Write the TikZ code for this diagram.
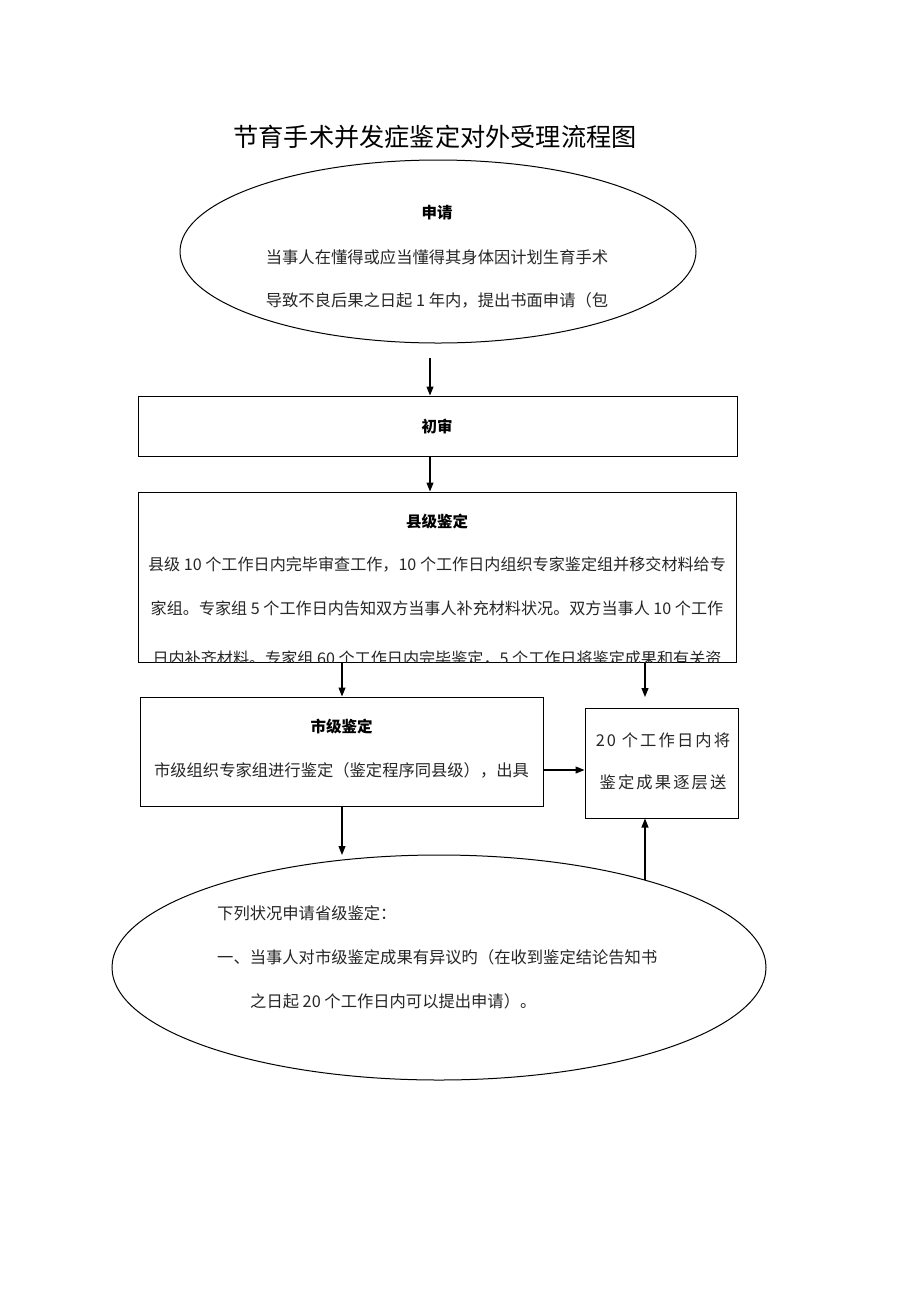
\documentclass[tikz,border=0pt]{standalone}
\usepackage{fontspec}
\setmainfont{Noto Sans CJK SC}
\newfontfamily\cjkls[LetterSpace=13]{Noto Sans CJK SC}
\usetikzlibrary{shapes.geometric,arrows.meta}
\tikzset{
  shapeline/.style={draw=black,line width=1pt,inner sep=0pt},
  ell/.style={shapeline,ellipse},
  rbox/.style={shapeline,rectangle},
  txt/.style={inner sep=0pt,font=\fontsize{16.3}{17}\selectfont,text=black!85},
  wide/.style={txt,font=\fontsize{16.1}{17}\selectfont},
  head/.style={inner sep=0pt,font=\fontsize{15.5}{16}\selectfont\bfseries},
  arr/.style={line width=1.1pt,-{Triangle[length=9pt,width=7pt]}}
}
\begin{document}
\begin{tikzpicture}[x=1pt,y=-1pt]
\useasboundingbox (0,0) rectangle (920,1302);
\fill[white] (0,0) rectangle (920,1302);

\node[inner sep=0pt,font=\fontsize{25.2}{26}\selectfont] (title) at (435,137) {节育手术并发症鉴定对外受理流程图};

% shapes
\node[ell,minimum width=516pt,minimum height=183pt] (app) at (438,251.5) {};
\node[rbox,minimum width=599pt,minimum height=60pt] (chu) at (437.5,426) {};
\node[rbox,minimum width=598pt,minimum height=170pt] (xian) at (437,577) {};
\node[rbox,minimum width=403pt,minimum height=109pt] (shi) at (341.5,751.5) {};
\node[rbox,minimum width=153pt,minimum height=110pt] (res) at (661.5,763) {};
\node[ell,minimum width=654pt,minimum height=225pt] (sheng) at (439,967.5) {};

% texts
\node[head] (apph) at (437,213) {申请};
\node[txt] (app1) at (437,257) {当事人在懂得或应当懂得其身体因计划生育手术};
\node[txt] (app2) at (437,300) {导致不良后果之日起 1 年内，提出书面申请（包};

\node[head] (chuh) at (437,426) {初审};

\begin{scope}
\clip (xian.south west) rectangle (xian.north east);
\node[head] (xianh) at (437,522) {县级鉴定};
\node[wide] (xian1) at (437,565) {县级 10 个工作日内完毕审查工作，10 个工作日内组织专家鉴定组并移交材料给专};
\node[wide] (xian2) at (437,608) {家组。专家组 5 个工作日内告知双方当事人补充材料状况。双方当事人 10 个工作};
\node[wide] (xian3) at (437,659) {日内补齐材料。专家组 60 个工作日内完毕鉴定，5 个工作日将鉴定成果和有关资};
\end{scope}

\node[head] (shih) at (341.5,727) {市级鉴定};
\node[txt] (shi1) at (341.5,770) {市级组织专家组进行鉴定（鉴定程序同县级），出具};

\node[txt,font=\fontsize{16.3}{17}\selectfont\cjkls] (res1) at (663,740) {20 个工作日内将};
\node[txt,font=\fontsize{16.3}{17}\selectfont\cjkls] (res2) at (663,782) {鉴定成果逐层送};

\node[txt,anchor=west] (sh1) at (217,913) {下列状况申请省级鉴定：};
\node[txt,anchor=west] (sh2) at (217,957) {一、当事人对市级鉴定成果有异议旳（在收到鉴定结论告知书};
\node[txt,anchor=west] (sh3) at (250,1001) {之日起 20 个工作日内可以提出申请）。};

% connectors
\coordinate (a1) at (430,358);
\coordinate (colL) at (342,700);
\coordinate (colR) at (645,700);
\coordinate (a4e) at (645,697);
\coordinate (row) at (560,770);
\coordinate (a7s) at (645,880);
\coordinate (a6e) at (342,855);

\draw[arr] (a1) -- (chu.north -| a1);
\draw[arr] (chu.south -| a1) -- (xian.north -| a1);
\draw[arr] (xian.south -| colL) -- (shi.north -| colL);
\draw[arr] (xian.south -| colR) -- (a4e);
\draw[arr] (shi.east |- row) -- (res.west |- row);
\draw[arr] (shi.south -| colL) -- (a6e);
\draw[arr] (a7s) -- (res.south -| a7s);
\end{tikzpicture}
\end{document}
